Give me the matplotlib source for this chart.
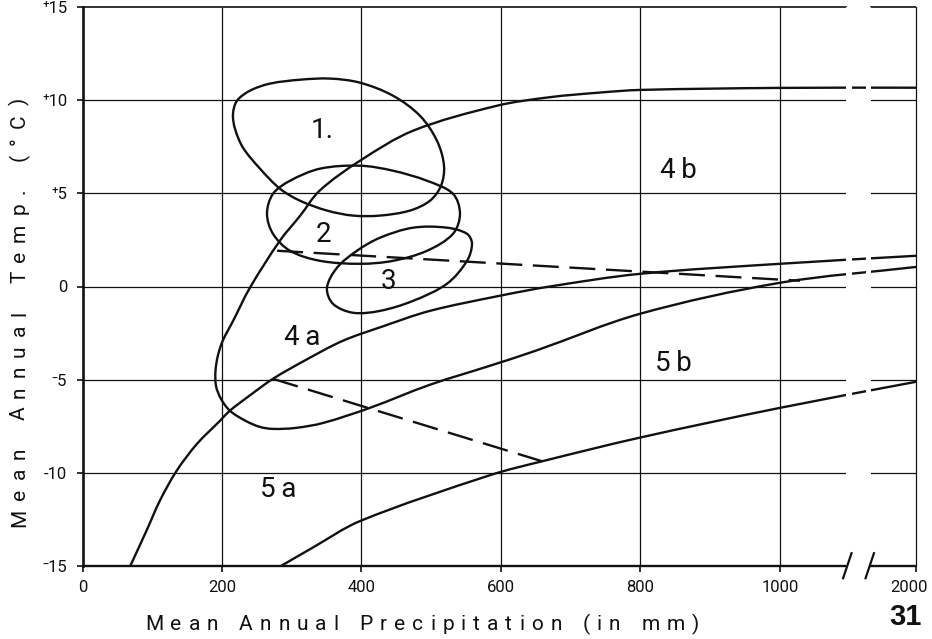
import numpy as np
import matplotlib
matplotlib.use("Agg")
import matplotlib.pyplot as plt
from matplotlib.path import Path
from matplotlib.patches import PathPatch
from matplotlib.font_manager import FontProperties
from matplotlib.transforms import ScaledTranslation

FAMILY = ["Roboto", "DejaVu Sans"]
plt.rcParams["font.family"] = FAMILY

# ---- precipitation axis: linear up to 1000 mm, squeezed from 1000 to 2000 mm
X_SPLIT = 1000.0
X_SQUEEZE = 0.195
GAP = (1495.0, 1660.0)        # broken part of the axis
GAP_DASH = (1530.0, 1630.0)   # short dash kept inside the break


def fwd(x):
    x = np.asarray(x, dtype=float)
    return np.where(x <= X_SPLIT, x, X_SPLIT + (x - X_SPLIT) * X_SQUEEZE)


def inv(u):
    u = np.asarray(u, dtype=float)
    return np.where(u <= X_SPLIT, u, X_SPLIT + (u - X_SPLIT) / X_SQUEEZE)


# ---- ticks
x_ticks = [0, 200, 400, 600, 800, 1000, 2000]
x_tick_labels = ["0", "200", "400", "600", "800", "1000", "2000"]
y_ticks = [-15, -10, -5, 0, 5, 10, 15]
y_tick_labels = ["\u207b15", "-10", "\u207b5", "0", "\u207a5", "\u207a10", "\u207a15"]

# ---- boundary curves (precipitation mm, temperature degC)
curve_a_p = [68, 92, 111, 135, 164, 197, 211, 240, 273, 320, 373, 430, 498,
             598, 670, 799, 1000, 2000]
curve_a_t = [-15.05, -13.1, -11.5, -9.9, -8.46, -7.22, -6.68, -5.85, -4.96,
             -3.95, -2.92, -2.15, -1.31, -0.5, 0.0, 0.68, 1.22, 1.65]

curve_d_p = [2000, 1000, 799, 742, 670, 594, 474, 398, 340, 312, 283, 240,
             216, 201, 194, 190.7, 191.4, 198.6, 211.5, 233, 254, 273, 305,
             345, 412, 498, 584, 649, 799, 1000, 2000]
curve_d_t = [10.68, 10.67, 10.56, 10.42, 10.17, 9.71, 8.37, 6.76, 5.15, 3.8,
             2.46, -0.07, -1.84, -2.92, -3.73, -4.53, -5.34, -6.04, -6.68,
             -7.2, -7.54, -7.65, -7.6, -7.33, -6.52, -5.28, -4.26, -3.46,
             -1.47, 0.2, 1.05]

curve_e_p = [283, 330, 398, 584, 659, 799, 1000, 2000]
curve_e_t = [-15.05, -14.03, -12.6, -10.14, -9.39, -8.12, -6.52, -5.12]

dash_1_p = [279, 1000, 1147]
dash_1_t = [1.92, 0.37, 0.31]
dash_2_p = [273, 659]
dash_2_t = [-4.96, -9.39]

# ---- closed outlines of the three groups
loop_1_p = [215.8, 221.5, 240.1, 268.8, 311.8, 354.8, 397.8, 445.2, 483.9,
            508.2, 518.3, 514.0, 498.2, 469.5, 426.5, 387.8, 350.5, 311.8,
            283.2, 254.5, 230.1, 218.6]
loop_1_t = [9.28, 9.98, 10.52, 10.90, 11.11, 11.17, 10.95, 10.25, 9.17, 7.83,
            6.49, 5.41, 4.61, 4.08, 3.81, 3.81, 4.08, 4.61, 5.25, 6.33, 7.46,
            8.48]

loop_2_p = [397.8, 340.5, 297.5, 273.1, 264.5, 273.1, 297.5, 340.5, 397.8,
            445.2, 494.0, 531.2, 541.2, 531.2, 494.0, 445.2]
loop_2_t = [6.49, 6.33, 5.68, 4.98, 3.91, 2.83, 1.92, 1.38, 1.22, 1.38, 1.92,
            2.83, 3.91, 4.98, 5.68, 6.22]

loop_3_p = [474.0, 522.6, 551.3, 558.4, 551.3, 522.6, 474.0, 426.5, 387.8,
            359.1, 350.5, 364.9, 393.5, 426.5]
loop_3_t = [3.16, 3.16, 2.83, 2.30, 1.38, 0.15, -0.77, -1.31, -1.41, -0.93,
            -0.07, 1.01, 1.92, 2.62]

region_labels = ["1.", "2", "3", "4\u2009a", "4\u2009b", "5\u2009a", "5\u2009b"]
region_p = [343, 346, 438, 315, 854, 280, 847]
region_t = [8.37, 2.77, 0.25, -2.76, 6.22, -10.88, -4.16]

INK = "#111111"
LW = 1.7
W_PX, H_PX = 932, 639

fig = plt.figure(figsize=(W_PX / 100, H_PX / 100), dpi=100)
ax = fig.add_axes([82.5 / W_PX, 1 - 565.7 / H_PX, (916 - 82.5) / W_PX,
                   (565.7 - 7.3) / H_PX])
ax.set_xscale("function", functions=(fwd, inv))
ax.set_xlim(0, 2000)
ax.set_ylim(-15, 15)

# frame: left/right spines, top/bottom drawn with the break
for side in ("top", "bottom"):
    ax.spines[side].set_visible(False)
ax.spines["left"].set_linewidth(1.9)
ax.spines["right"].set_linewidth(0.9)
ax.spines["left"].set_color(INK)
ax.spines["right"].set_color(INK)

xt = ax.get_xaxis_transform()
for y, lw in ((1.0, 1.2), (0.0, 1.7)):
    ax.plot([0, GAP[0]], [y, y], transform=xt, color=INK, lw=lw,
            clip_on=False, solid_capstyle="butt", zorder=3)
    ax.plot([GAP[1], 2000], [y, y], transform=xt, color=INK, lw=lw,
            clip_on=False, solid_capstyle="butt", zorder=3)

# break marks "//" on the precipitation axis
for gx in GAP:
    base = ax.transData.transform((gx, -15))
    x0, y0 = fig.transFigure.inverted().transform(base + np.array([-4.2, -12.5]))
    x1, y1 = fig.transFigure.inverted().transform(base + np.array([4.2, 12.5]))
    fig.add_artist(plt.Line2D([x0, x1], [y0, y1], color=INK, lw=1.6,
                              transform=fig.transFigure))

# grid, broken like the axis
ax.vlines([200, 400, 600, 800, 1000], -15, 15, color=INK, lw=0.9, zorder=1)
for y in (-10, -5, 0, 5, 10):
    ax.hlines(y, 0, GAP[0], color=INK, lw=0.9, zorder=1)
    ax.hlines(y, GAP[1], 2000, color=INK, lw=0.9, zorder=1)

# smooth curves through the points, built in the scaled axis space
bbox = ax.get_window_extent()
SX = bbox.width / float(fwd(2000))
SY = bbox.height / 30.0
scaled_to_display = ax.transLimits + ax.transAxes


def smooth_curve(p, t, closed=False):
    pts = np.column_stack([fwd(p) * SX, np.asarray(t, float) * SY])
    n = len(pts)
    if closed:
        prev_pts = np.roll(pts, 1, axis=0)
        next_pts = np.roll(pts, -1, axis=0)
        d_prev = np.linalg.norm(pts - prev_pts, axis=1)
        d_next = np.linalg.norm(next_pts - pts, axis=1)
        tang = (next_pts - prev_pts) / (d_prev + d_next)[:, None]
        seg = list(range(n))
    else:
        tang = np.zeros_like(pts)
        d = np.linalg.norm(np.diff(pts, axis=0), axis=1)
        tang[0] = (pts[1] - pts[0]) / d[0]
        tang[-1] = (pts[-1] - pts[-2]) / d[-1]
        for i in range(1, n - 1):
            tang[i] = (pts[i + 1] - pts[i - 1]) / (d[i - 1] + d[i])
        seg = list(range(n - 1))
    verts = [pts[0]]
    codes = [Path.MOVETO]
    for i in seg:
        j = (i + 1) % n
        dist = np.linalg.norm(pts[j] - pts[i])
        verts += [pts[i] + tang[i] * dist / 3, pts[j] - tang[j] * dist / 3,
                  pts[j]]
        codes += [Path.CURVE4] * 3
    verts = np.array(verts) / np.array([SX, SY])
    patch = PathPatch(Path(verts, codes), fill=False, edgecolor=INK, lw=LW,
                      transform=scaled_to_display, zorder=4,
                      capstyle="butt", joinstyle="round")
    ax.add_patch(patch)
    return patch


for p, t in ((curve_a_p, curve_a_t), (curve_d_p, curve_d_t),
             (curve_e_p, curve_e_t)):
    smooth_curve(p, t)

for p, t in ((loop_1_p, loop_1_t), (loop_2_p, loop_2_t),
             (loop_3_p, loop_3_t)):
    smooth_curve(p, t, closed=True)

for p, t in ((dash_1_p, dash_1_t), (dash_2_p, dash_2_t)):
    ax.plot(p, t, color=INK, lw=LW, zorder=4, dashes=(11, 4.5))

# open the curves at the break, leaving a short dash
ax.axvspan(GAP[0] - 10, GAP_DASH[0], color="white", lw=0, zorder=5)
ax.axvspan(GAP_DASH[1], GAP[1] + 10, color="white", lw=0, zorder=5)

for lab, p, t in zip(region_labels, region_p, region_t):
    ax.text(p, t, lab, fontsize=20, ha="center", va="center", color=INK,
            zorder=6)

ax.set_xticks(x_ticks)
ax.set_xticklabels(x_tick_labels)
ax.set_yticks(y_ticks)
ax.set_yticklabels(y_tick_labels)
ax.tick_params(direction="out", length=4, width=1.2, color=INK,
               labelsize=12, labelcolor=INK)
ax.tick_params(axis="x", pad=6)
ax.tick_params(axis="y", pad=7)
last = ax.get_xticklabels()[-1]
last.set_transform(last.get_transform()
                   + ScaledTranslation(-7 / 100, 0, fig.dpi_scale_trans))

# letter-spaced axis titles
renderer = fig.canvas.get_renderer()
WORD_GAP = 3.0


def spaced_title(text, start, end, base, size, vertical=False):
    fp = FontProperties(family=FAMILY, size=size)
    words = text.split(" ")
    widths = [[renderer.get_text_width_height_descent(c, fp, ismath=False)[0]
               for c in w] for w in words]
    glyphs = sum(sum(ws) for ws in widths)
    n_gaps = sum(len(w) - 1 for w in words) + WORD_GAP * (len(words) - 1)
    gap = (abs(end - start) - glyphs) / n_gaps
    pos = 0.0
    for word, ws in zip(words, widths):
        for ch, w in zip(word, ws):
            if vertical:
                fig.text(base / W_PX, 1 - (start - pos) / H_PX, ch,
                         rotation=90, rotation_mode="anchor", ha="left",
                         va="baseline", fontproperties=fp, color=INK)
            else:
                fig.text((start + pos) / W_PX, 1 - base / H_PX, ch,
                         ha="left", va="baseline", fontproperties=fp,
                         color=INK)
            pos += w + gap
        pos += gap * (WORD_GAP - 1)


spaced_title("Mean Annual Precipitation (in mm)", 145, 699, 630, 15)
spaced_title("Mean Annual Temp. (\u00b0C)", 527, 98, 25, 15, vertical=True)

fig.text(905 / W_PX, 1 - 617 / H_PX, "31", ha="center", va="center",
         fontsize=21, fontweight="bold", family=["Liberation Sans"], color=INK)

fig.savefig("out.png", dpi=100, facecolor="white")
